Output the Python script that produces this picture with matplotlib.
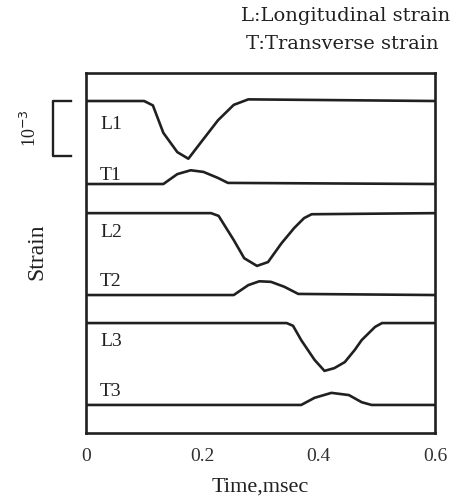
import matplotlib.pyplot as plt

plt.rcParams['font.family'] = ['Liberation Serif', 'DejaVu Serif']

# strain traces, units of 1e-3
t_L1 = [0, 0.10, 0.115, 0.133, 0.157, 0.176, 0.197, 0.227, 0.254, 0.279, 0.6]
s_L1 = [0, 0, -0.08, -0.58, -0.93, -1.05, -0.76, -0.35, -0.07, 0.03, 0]
t_T1 = [0, 0.133, 0.157, 0.18, 0.202, 0.227, 0.244, 0.6]
s_T1 = [0, 0, 0.18, 0.25, 0.22, 0.11, 0.02, 0]
t_L2 = [0, 0.215, 0.228, 0.254, 0.272, 0.294, 0.313, 0.336, 0.358, 0.375, 0.388, 0.6]
s_L2 = [0, 0, -0.05, -0.49, -0.82, -0.96, -0.89, -0.55, -0.27, -0.09, -0.02, 0]
t_T2 = [0, 0.254, 0.279, 0.298, 0.318, 0.341, 0.365, 0.6]
s_T2 = [0, 0, 0.18, 0.25, 0.24, 0.15, 0.02, 0]
t_L3 = [0, 0.345, 0.356, 0.37, 0.393, 0.41, 0.427, 0.445, 0.462, 0.474, 0.497, 0.509, 0.6]
s_L3 = [0, 0, -0.05, -0.31, -0.67, -0.87, -0.82, -0.71, -0.49, -0.31, -0.07, 0, 0]
t_T3 = [0, 0.37, 0.393, 0.422, 0.452, 0.474, 0.491, 0.6]
s_T3 = [0, 0, 0.13, 0.22, 0.18, 0.05, 0, 0]

names = ['L1', 'T1', 'L2', 'T2', 'L3', 'T3']
offsets = [6.04, 4.53, 4.0, 2.51, 2.0, 0.51]
label_dy = [-0.42, 0.16, -0.35, 0.24, -0.33, 0.24]
xticks = [0, 0.2, 0.4, 0.6]

traces = [(t_L1, s_L1), (t_T1, s_T1), (t_L2, s_L2), (t_T2, s_T2), (t_L3, s_L3), (t_T3, s_T3)]

fig = plt.figure(figsize=(4.69, 5.03), dpi=100)
ax = fig.add_axes([0.1834, 0.1392, 0.744, 0.7157])
c = '#202020'

for name, off, dy, (t, s) in zip(names, offsets, label_dy, traces):
    ax.plot(t, [v + off for v in s], color=c, lw=1.9, solid_joinstyle='round')
    ax.text(0.024, off + dy, name, fontsize=14, color=c, ha='left', va='center')

ax.set_xlim(0, 0.6)
ax.set_ylim(0, 6.55)
ax.set_xticks(xticks)
ax.set_xticklabels(['0', '0.2', '0.4', '0.6'], fontsize=14, color='#303030')
ax.tick_params(axis='x', length=0, pad=11)
ax.set_yticks([])
for sp in ax.spines.values():
    sp.set_linewidth(1.9)
    sp.set_color(c)

ax.set_xlabel('Time,msec', fontsize=16, color=c, labelpad=9)

# 10^-3 scale bracket
tr = ax.get_yaxis_transform()
bx0, bx1 = -0.094, -0.042
ax.plot([bx1, bx0, bx0, bx1], [offsets[0], offsets[0], offsets[0] - 1, offsets[0] - 1],
        color=c, lw=1.7, transform=tr, clip_on=False)
ax.text(-0.16, offsets[0] - 0.5, r'10$^{-3}$', rotation=90, fontsize=13, color=c,
        ha='center', va='center', transform=tr)
ax.text(-0.14, 3.3, 'Strain', rotation=90, fontsize=17, color=c,
        ha='center', va='center', transform=tr)

fig.text(0.736, 0.968, 'L:Longitudinal strain', fontsize=14, color=c, ha='center', va='center',
         family='DejaVu Serif')
fig.text(0.729, 0.913, 'T:Transverse strain', fontsize=14, color=c, ha='center', va='center',
         family='DejaVu Serif')

fig.savefig('out.png', dpi=100)
